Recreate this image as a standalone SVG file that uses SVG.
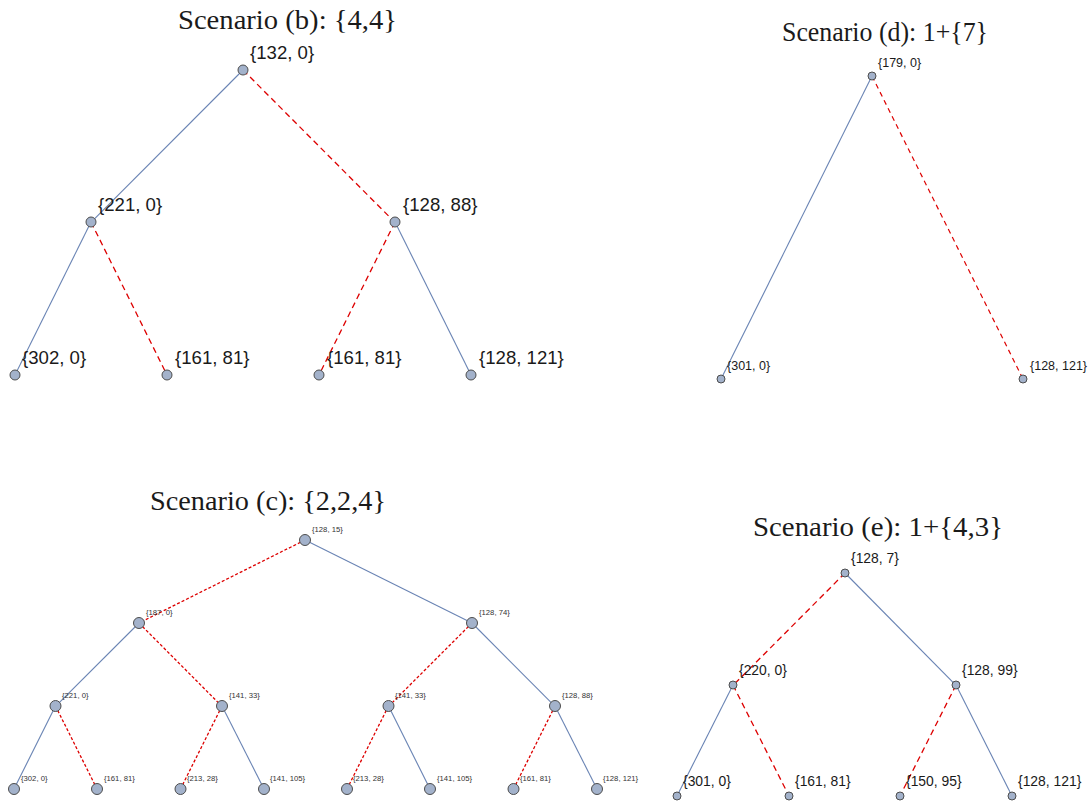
<svg xmlns="http://www.w3.org/2000/svg" width="1089" height="802" viewBox="0 0 1089 802">
<style>
.title{font-family:"Liberation Serif","Times New Roman",serif;font-size:27px;fill:#1a1a1a;text-anchor:middle}
.lbl{font-family:"Liberation Sans",Arial,sans-serif;fill:#1a1a1a}
.lb{font-size:18.6px}
.ld{font-size:12.5px}
.le{font-size:13.9px}
.lc{font-size:7.7px;fill:#333}
.s{stroke:#6a84b4;stroke-width:1.1;fill:none}
.d{stroke:#dd0000;stroke-width:1.3;fill:none;stroke-dasharray:6 4}
.dc{stroke:#dd0000;stroke-width:1.3;fill:none;stroke-dasharray:3 2}
.dd{stroke:#dd0000;stroke-width:1.2;fill:none;stroke-dasharray:5 4}
.n{fill:#a3b2cb;stroke:#4d4d4d;stroke-width:1}
</style>
<rect width="1089" height="802" fill="#fff"/>

<!-- Titles -->
<text class="title" x="287.5" y="29" textLength="219" lengthAdjust="spacingAndGlyphs">Scenario (b):  {4,4}</text>
<text class="title" x="885" y="41" textLength="206" lengthAdjust="spacingAndGlyphs">Scenario (d):  1+{7}</text>
<text class="title" x="268" y="510" textLength="236" lengthAdjust="spacingAndGlyphs">Scenario (c):  {2,2,4}</text>
<text class="title" x="878" y="536" textLength="250" lengthAdjust="spacingAndGlyphs">Scenario (e):  1+{4,3}</text>

<!-- Connectors -->
<g id="connectors">
  <!-- (b) -->
  <line class="s" x1="243" y1="70" x2="91" y2="222.4"/>
  <line class="d" x1="243" y1="70" x2="395" y2="222.4"/>
  <line class="s" x1="91" y1="222" x2="15" y2="375"/>
  <line class="d" x1="91" y1="222" x2="167" y2="375"/>
  <line class="d" x1="395" y1="222" x2="319" y2="375"/>
  <line class="s" x1="395" y1="222" x2="471" y2="375"/>
  <!-- (d) -->
  <line class="s" x1="872" y1="76" x2="721" y2="379"/>
  <line class="dd" x1="872" y1="76" x2="1023" y2="379"/>
  <!-- (c) -->
  <line class="dc" x1="305" y1="540" x2="139" y2="623"/>
  <line class="s" x1="305" y1="540" x2="472" y2="623"/>
  <line class="s" x1="139" y1="623" x2="55.5" y2="706.4"/>
  <line class="dc" x1="139" y1="623" x2="222" y2="706.4"/>
  <line class="dc" x1="472" y1="623" x2="388.5" y2="706.4"/>
  <line class="s" x1="472" y1="623" x2="555" y2="706.4"/>
  <line class="s" x1="55.5" y1="706" x2="14" y2="789"/>
  <line class="dc" x1="55.5" y1="706" x2="97" y2="789"/>
  <line class="dc" x1="222" y1="706" x2="180.5" y2="789"/>
  <line class="s" x1="222" y1="706" x2="264" y2="789"/>
  <line class="dc" x1="388.5" y1="706" x2="347" y2="789"/>
  <line class="s" x1="388.5" y1="706" x2="430" y2="789"/>
  <line class="dc" x1="555" y1="706" x2="513.5" y2="789"/>
  <line class="s" x1="555" y1="706" x2="597" y2="789"/>
  <!-- (e) -->
  <line class="d" x1="845" y1="573" x2="733" y2="685.4"/>
  <line class="s" x1="845" y1="573" x2="956" y2="685.4"/>
  <line class="s" x1="733" y1="685" x2="677" y2="796"/>
  <line class="d" x1="733" y1="685" x2="789" y2="796"/>
  <line class="d" x1="956" y1="685" x2="900" y2="796"/>
  <line class="s" x1="956" y1="685" x2="1012" y2="796"/>
</g>

<!-- Scenario (b) nodes -->
<g id="b-root"><circle class="n" cx="243" cy="70" r="5"/><text class="lbl lb" x="250" y="59">{132, 0}</text></g>
<g id="b-l"><circle class="n" cx="91" cy="222" r="5"/><text class="lbl lb" x="98" y="211">{221, 0}</text></g>
<g id="b-r"><circle class="n" cx="395" cy="222" r="5"/><text class="lbl lb" x="403" y="211">{128, 88}</text></g>
<g id="b-ll"><circle class="n" cx="15" cy="375" r="5"/><text class="lbl lb" x="22" y="364">{302, 0}</text></g>
<g id="b-lr"><circle class="n" cx="167" cy="375" r="5"/><text class="lbl lb" x="175" y="364">{161, 81}</text></g>
<g id="b-rl"><circle class="n" cx="319" cy="375" r="5"/><text class="lbl lb" x="327" y="364">{161, 81}</text></g>
<g id="b-rr"><circle class="n" cx="471" cy="375" r="5"/><text class="lbl lb" x="479" y="364">{128, 121}</text></g>

<!-- Scenario (d) nodes -->
<g id="d-root"><circle class="n" cx="872" cy="76" r="4"/><text class="lbl ld" x="878" y="67">{179, 0}</text></g>
<g id="d-l"><circle class="n" cx="721" cy="379" r="4"/><text class="lbl ld" x="727" y="370">{301, 0}</text></g>
<g id="d-r"><circle class="n" cx="1023" cy="379" r="4"/><text class="lbl ld" x="1030" y="370">{128, 121}</text></g>

<!-- Scenario (c) nodes -->
<g id="c-root"><circle class="n" cx="305" cy="540" r="5.5"/><text class="lbl lc" x="312" y="532">{128, 15}</text></g>
<g id="c-l"><circle class="n" cx="139" cy="623" r="5.5"/><text class="lbl lc" x="146" y="615">{187, 0}</text></g>
<g id="c-r"><circle class="n" cx="472" cy="623" r="5.5"/><text class="lbl lc" x="479" y="615">{128, 74}</text></g>
<g id="c-ll"><circle class="n" cx="55.5" cy="706" r="5.5"/><text class="lbl lc" x="62" y="698">{221, 0}</text></g>
<g id="c-lr"><circle class="n" cx="222" cy="706" r="5.5"/><text class="lbl lc" x="229" y="698">{141, 33}</text></g>
<g id="c-rl"><circle class="n" cx="388.5" cy="706" r="5.5"/><text class="lbl lc" x="395" y="698">{141, 33}</text></g>
<g id="c-rr"><circle class="n" cx="555" cy="706" r="5.5"/><text class="lbl lc" x="562" y="698">{128, 88}</text></g>
<g id="c-lll"><circle class="n" cx="14" cy="789" r="5.5"/><text class="lbl lc" x="21" y="781">{302, 0}</text></g>
<g id="c-llr"><circle class="n" cx="97" cy="789" r="5.5"/><text class="lbl lc" x="104" y="781">{161, 81}</text></g>
<g id="c-lrl"><circle class="n" cx="180.5" cy="789" r="5.5"/><text class="lbl lc" x="187" y="781">{213, 28}</text></g>
<g id="c-lrr"><circle class="n" cx="264" cy="789" r="5.5"/><text class="lbl lc" x="270" y="781">{141, 105}</text></g>
<g id="c-rll"><circle class="n" cx="347" cy="789" r="5.5"/><text class="lbl lc" x="353" y="781">{213, 28}</text></g>
<g id="c-rlr"><circle class="n" cx="430" cy="789" r="5.5"/><text class="lbl lc" x="437" y="781">{141, 105}</text></g>
<g id="c-rrl"><circle class="n" cx="513.5" cy="789" r="5.5"/><text class="lbl lc" x="520" y="781">{161, 81}</text></g>
<g id="c-rrr"><circle class="n" cx="597" cy="789" r="5.5"/><text class="lbl lc" x="603" y="781">{128, 121}</text></g>

<!-- Scenario (e) nodes -->
<g id="e-root"><circle class="n" cx="845" cy="573" r="4"/><text class="lbl le" x="851" y="563">{128, 7}</text></g>
<g id="e-l"><circle class="n" cx="733" cy="685" r="4"/><text class="lbl le" x="739" y="675">{220, 0}</text></g>
<g id="e-r"><circle class="n" cx="956" cy="685" r="4"/><text class="lbl le" x="962" y="675">{128, 99}</text></g>
<g id="e-ll"><circle class="n" cx="677" cy="796" r="4"/><text class="lbl le" x="683" y="786">{301, 0}</text></g>
<g id="e-lr"><circle class="n" cx="789" cy="796" r="4"/><text class="lbl le" x="795" y="786">{161, 81}</text></g>
<g id="e-rl"><circle class="n" cx="900" cy="796" r="4"/><text class="lbl le" x="906" y="786">{150, 95}</text></g>
<g id="e-rr"><circle class="n" cx="1012" cy="796" r="4"/><text class="lbl le" x="1018" y="786">{128, 121}</text></g>
</svg>
